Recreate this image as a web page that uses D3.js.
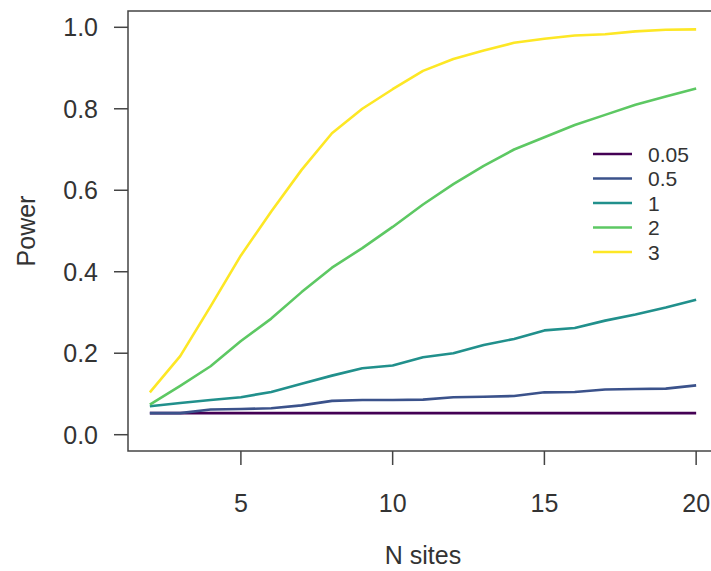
<!DOCTYPE html>
<html>
<head>
<meta charset="utf-8">
<script src="https://cdn.jsdelivr.net/npm/d3@7"></script>
<style>
  body { margin: 0; background: #fff; }
  #chart { width: 711px; height: 571px; }
  text { font-family: "Liberation Sans", Arial, sans-serif; fill: #333; }
</style>
</head>
<body>
<div id="chart"></div>
<script>
// N sites along the x axis
const sites = [2, 3, 4, 5, 6, 7, 8, 9, 10, 11, 12, 13, 14, 15, 16, 17, 18, 19, 20];

// power curves, one per effect size
const effects = ["0.05", "0.5", "1", "2", "3"];
const power005 = [0.053, 0.053, 0.053, 0.053, 0.053, 0.053, 0.053, 0.053, 0.053, 0.053,
                  0.053, 0.053, 0.053, 0.053, 0.053, 0.053, 0.053, 0.053, 0.053];
const power05 = [0.053, 0.053, 0.062, 0.063, 0.065, 0.072, 0.083, 0.085, 0.085, 0.086,
                 0.092, 0.093, 0.095, 0.104, 0.105, 0.111, 0.112, 0.113, 0.121];
const power1 = [0.070, 0.078, 0.085, 0.092, 0.105, 0.125, 0.145, 0.163, 0.170, 0.190,
                0.200, 0.220, 0.235, 0.256, 0.262, 0.280, 0.295, 0.312, 0.331];
const power2 = [0.074, 0.120, 0.168, 0.230, 0.285, 0.350, 0.410, 0.458, 0.510, 0.565,
                0.615, 0.660, 0.700, 0.730, 0.760, 0.785, 0.810, 0.830, 0.850];
const power3 = [0.104, 0.193, 0.315, 0.440, 0.548, 0.650, 0.740, 0.800, 0.848, 0.893,
                0.922, 0.943, 0.962, 0.972, 0.980, 0.983, 0.990, 0.994, 0.995];
const series = [power005, power05, power1, power2, power3];

const xTicks = [5, 10, 15, 20];
const yTicks = [0, 0.2, 0.4, 0.6, 0.8, 1.0];

const colors = ["#440154", "#3B528B", "#21908C", "#5DC863", "#FDE725"];

const width = 711, height = 571;
const margin = {top: 11, left: 128, right: -7, bottom: 120};

const svg = d3.select("#chart").append("svg")
    .attr("width", width)
    .attr("height", height);

// R-style 4% padding on both axes
const xScale = d3.scaleLinear()
    .domain([2 - 18 * 0.04, 20 + 18 * 0.04])
    .range([margin.left, width - margin.right]);

const yScale = d3.scaleLinear()
    .domain([-0.04, 1.04])
    .range([height - margin.bottom, margin.top]);

// box round the plot region
svg.append("rect")
    .attr("x", xScale.range()[0])
    .attr("y", yScale.range()[1])
    .attr("width", xScale.range()[1] - xScale.range()[0])
    .attr("height", yScale.range()[0] - yScale.range()[1])
    .attr("fill", "none")
    .attr("stroke", "#444")
    .attr("stroke-width", 1.5);

// y axis ticks + labels
const yAxis = svg.append("g");
yAxis.selectAll("line").data(yTicks).join("line")
    .attr("x1", margin.left - 14).attr("x2", margin.left)
    .attr("y1", d => yScale(d)).attr("y2", d => yScale(d))
    .attr("stroke", "#444").attr("stroke-width", 1.5);
yAxis.selectAll("text").data(yTicks).join("text")
    .attr("x", 98)
    .attr("y", d => yScale(d))
    .attr("text-anchor", "end")
    .attr("dy", "0.36em")
    .style("font-size", "25px")
    .text(d => d.toFixed(1));

// x axis ticks + labels
const xAxis = svg.append("g");
const yBase = yScale.range()[0];
xAxis.selectAll("line").data(xTicks).join("line")
    .attr("x1", d => xScale(d)).attr("x2", d => xScale(d))
    .attr("y1", yBase).attr("y2", yBase + 14)
    .attr("stroke", "#444").attr("stroke-width", 1.5);
xAxis.selectAll("text").data(xTicks).join("text")
    .attr("x", d => xScale(d))
    .attr("y", yBase + 52)
    .attr("text-anchor", "middle")
    .attr("dy", "0.36em")
    .style("font-size", "25px")
    .text(d => d);

// axis titles
svg.append("text")
    .attr("x", (margin.left + width - margin.right) / 2)
    .attr("y", 555)
    .attr("text-anchor", "middle")
    .attr("dy", "0.36em")
    .style("font-size", "25px")
    .text("N sites");

svg.append("text")
    .attr("transform", `translate(26,${(yScale.range()[0] + yScale.range()[1]) / 2}) rotate(-90)`)
    .attr("text-anchor", "middle")
    .attr("dy", "0.36em")
    .style("font-size", "25px")
    .text("Power");

// the power curves
const line = d3.line()
    .x((d, i) => xScale(sites[i]))
    .y(d => yScale(d));

svg.append("g").selectAll("path").data(series).join("path")
    .attr("d", line)
    .attr("fill", "none")
    .attr("stroke", (d, i) => colors[i])
    .attr("stroke-width", 2.6)
    .attr("stroke-linejoin", "round");

// legend, no box
const legend = svg.append("g");
const legY = d3.scaleLinear().domain([0, 4]).range([154, 252]);
legend.selectAll("line").data(effects).join("line")
    .attr("x1", 593).attr("x2", 632)
    .attr("y1", (d, i) => legY(i)).attr("y2", (d, i) => legY(i))
    .attr("stroke", (d, i) => colors[i])
    .attr("stroke-width", 2.6);
legend.selectAll("text").data(effects).join("text")
    .attr("x", 648)
    .attr("y", (d, i) => legY(i))
    .attr("dy", "0.36em")
    .style("font-size", "21px")
    .text(d => d);
</script>
</body>
</html>
